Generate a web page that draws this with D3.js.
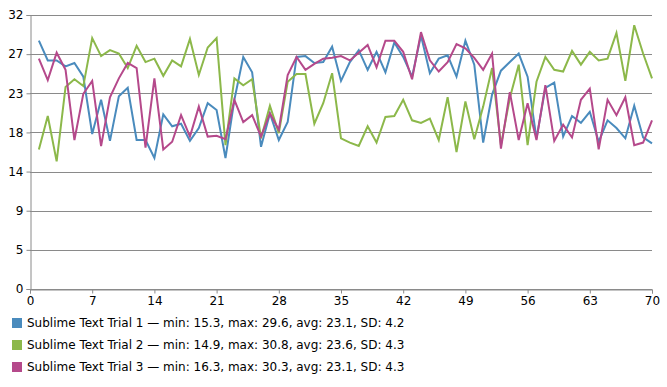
<!DOCTYPE html>
<html>
<head>
<meta charset="utf-8">
<script src="https://cdn.jsdelivr.net/npm/d3@7"></script>
<style>
  body { margin: 0; background: #fff; }
  svg { display: block; font-family: "DejaVu Sans", sans-serif; }
</style>
</head>
<body>
<div id="chart"></div>
<script>
// x values: 1..70
const xValues = d3.range(1, 71);

const trial1 = [29.0, 26.7, 26.7, 26.0, 26.4, 24.8, 18.1, 22.1, 17.3, 22.5,
  23.5, 17.4, 17.4, 15.3, 20.4, 19.0, 19.3, 17.3, 18.8, 21.7,
  20.9, 15.3, 22.1, 27.1, 25.3, 16.6, 20.5, 17.4, 19.5, 27.1,
  27.2, 26.4, 26.5, 28.3, 24.3, 26.5, 27.9, 25.6, 27.7, 25.3,
  28.8, 27.1, 24.8, 29.6, 25.2, 26.9, 27.3, 24.8, 29.0, 26.2,
  17.1, 22.7, 25.5, 26.5, 27.5, 24.8, 17.6, 23.5, 24.1, 17.8,
  20.2, 19.4, 20.7, 17.2, 19.7, 18.8, 17.6, 21.4, 17.7, 17.0];

const trial2 = [16.3, 20.2, 14.9, 23.6, 24.5, 23.7, 29.3, 27.2, 27.9, 27.5,
  25.8, 28.4, 26.5, 26.9, 24.9, 26.7, 26.0, 29.2, 25.0, 28.2,
  29.3, 16.8, 24.6, 23.8, 24.5, 17.6, 21.4, 18.2, 24.2, 25.1,
  25.1, 19.3, 21.7, 25.2, 17.6, 17.1, 16.7, 19.0, 17.1, 20.1,
  20.2, 22.1, 19.7, 19.4, 19.9, 17.4, 22.4, 16.0, 21.9, 17.5,
  21.3, 25.8, 16.8, 22.3, 26.2, 16.8, 24.2, 27.1, 25.6, 25.4,
  27.8, 26.2, 27.7, 26.7, 26.9, 29.9, 24.3, 30.8, 27.5, 24.6];

const trial3 = [26.9, 24.4, 27.6, 25.6, 17.4, 22.8, 24.3, 16.7, 22.4, 24.6,
  26.4, 25.8, 16.5, 24.6, 16.3, 17.2, 20.3, 17.8, 21.3, 17.8,
  17.9, 17.5, 22.1, 19.5, 20.3, 17.8, 20.5, 18.6, 25.0, 27.1,
  25.6, 26.3, 26.9, 27.0, 27.2, 26.7, 27.6, 28.5, 25.9, 29.0,
  29.0, 27.7, 24.5, 30.0, 26.7, 25.4, 26.5, 28.6, 28.1, 27.0,
  25.6, 27.5, 16.4, 23.0, 17.4, 21.7, 17.4, 23.8, 17.3, 19.2,
  17.7, 22.1, 23.4, 16.3, 22.1, 20.3, 22.4, 16.8, 17.1, 19.7];

const seriesNames = [
  "Sublime Text Trial 1 \u2014 min: 15.3, max: 29.6, avg: 23.1, SD: 4.2",
  "Sublime Text Trial 2 \u2014 min: 14.9, max: 30.8, avg: 23.6, SD: 4.3",
  "Sublime Text Trial 3 \u2014 min: 16.3, max: 30.3, avg: 23.1, SD: 4.3"
];
const seriesColors = ["#4a8bbd", "#8cb84a", "#b5498b"];

const xTicks = d3.range(0, 71, 7);
const yTicks = d3.range(0, 8).map(k => 32 * k / 7);

const width = 667, height = 387;
const margin = { top: 15, right: 15, bottom: 98, left: 30 };

const svg = d3.select("#chart").append("svg")
  .attr("width", width)
  .attr("height", height);

const x = d3.scaleLinear().domain([0, 70]).range([margin.left, width - margin.right]);
const y = d3.scaleLinear().domain([0, 32]).range([height - margin.bottom, margin.top]);

// grid lines
svg.append("g")
  .selectAll("line")
  .data(yTicks).enter()
  .append("line")
  .attr("x1", x(0))
  .attr("x2", x(70))
  .attr("y1", d => Math.round(y(d)) + 0.5)
  .attr("y2", d => Math.round(y(d)) + 0.5)
  .attr("stroke", "#8a8a8a")
  .attr("stroke-width", 1);

// Y Axis
const yAxis = svg.append("g")
  .attr("transform", `translate(${x(0) + 0.5},0)`)
  .call(d3.axisLeft(y).tickValues(yTicks).tickSize(4).tickPadding(3)
    .tickFormat(d => Math.round(d)));
yAxis.selectAll("text").attr("font-size", "12px").attr("fill", "#000")
  .style("font-family", "'DejaVu Sans', sans-serif");

// X Axis
const xAxis = svg.append("g")
  .attr("transform", `translate(0,${Math.round(y(0)) + 0.5})`)
  .call(d3.axisBottom(x).tickValues(xTicks).tickSize(4).tickPadding(3));
xAxis.selectAll("text").attr("font-size", "12px").attr("fill", "#000")
  .style("font-family", "'DejaVu Sans', sans-serif");

svg.selectAll(".domain, .tick line").attr("stroke", "#8a8a8a");

/* lines */
const data = [trial1, trial2, trial3].map((vals, i) => ({
  name: seriesNames[i],
  color: seriesColors[i],
  values: vals.map((v, j) => ({ x: xValues[j], y: v }))
}));

const line = d3.line()
  .x(d => x(d.x))
  .y(d => y(d.y));

svg.append("g")
  .selectAll("path")
  .data(data).enter()
  .append("path")
  .attr("d", d => line(d.values))
  .attr("fill", "none")
  .attr("stroke", d => d.color)
  .attr("stroke-width", 2)
  .attr("stroke-linejoin", "miter");

// legend
const legend = svg.selectAll(".legend")
  .data(data).enter()
  .append("g")
  .attr("class", "legend")
  .attr("transform", (d, i) => `translate(12,${318 + i * 22})`);

legend.append("rect")
  .attr("width", 10)
  .attr("height", 10)
  .attr("fill", d => d.color);

legend.append("text")
  .attr("x", 15)
  .attr("y", 5)
  .attr("dy", "0.35em")
  .attr("font-size", "12px")
  .attr("fill", "#000")
  .text(d => d.name);
</script>
</body>
</html>
